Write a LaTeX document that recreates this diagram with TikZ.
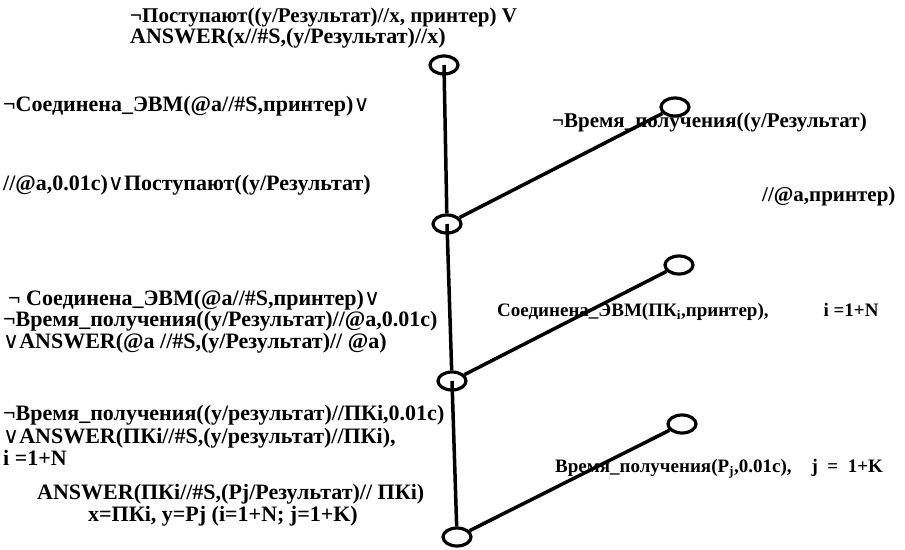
\documentclass[tikz,border=0pt]{standalone}
\usepackage{fontspec}
\setmainfont{Liberation Serif}
\newfontfamily\symfont{DejaVu Serif}
\usetikzlibrary{shapes.geometric}
\newcommand{\orsym}{{\symfont\normalfont\symfont ∨}}

\begin{document}
\begin{tikzpicture}[x=1pt, y=-1pt,
    main/.style = {draw, ellipse, line width=3.2pt, minimum width=28pt, minimum height=18pt, inner sep=0pt},
    txt/.style = {anchor=base west, inner sep=0pt, font=\fontsize{22}{26}\selectfont\bfseries},
    rtxt/.style = {txt, font=\fontsize{21}{25}\selectfont\bfseries},
    stxt/.style = {txt, font=\fontsize{19}{23}\selectfont\bfseries},
    edge/.style = {line width=3.5pt}]

    \useasboundingbox (0,0) rectangle (905,549);

    \node[rtxt] (t1) at (130, 22) {¬Поступают((y/Результат)//x, принтер) V};
    \node[txt] (t2) at (130, 43) {ANSWER(x//\#S,(y/Результат)//x)};
    \node[txt] (t3) at (3, 111) {¬Соединена\_ЭВМ(@a//\#S,принтер)\orsym};
    \node[txt] (t4) at (3, 190) {//@a,0.01c)\orsym Поступают((y/Результат)};
    \node[rtxt] (t5) at (552, 127) {¬Время\_получения((y/Результат)};
    \node[rtxt] (t6) at (762, 201) {//@a,принтер)};

    %--------------------------------------------

    \node[txt] (t7) at (8, 305) {¬ Соединена\_ЭВМ(@a//\#S,принтер)\orsym};
    \node[txt] (t8) at (3, 326) {¬Время\_получения((y/Результат)//@a,0.01c)};
    \node[txt] (t9) at (3, 348) {\orsym ANSWER(@a //\#S,(y/Результат)// @a)};
    \node[stxt] (t10) at (497, 316) {Соединена\_ЭВМ(ПК\textsubscript{i},принтер),\hspace{55pt}i =1+N};

    %--------------------------------------------

    \node[txt] (t11) at (3, 420) {¬Время\_получения((y/результат)//ПКi,0.01c)};
    \node[txt] (t12) at (3, 443) {\orsym ANSWER(ПКi//\#S,(y/результат)//ПКi),};
    \node[txt] (t13) at (3, 465) {i =1+N};
    \node[txt] (t14) at (37, 499) {ANSWER(ПКi//\#S,(Pj/Результат)// ПКi)};
    \node[txt] (t15) at (88, 521) {x=ПКi, y=Pj (i=1+N; j=1+K)};
    \node[stxt] (t16) at (555, 472) {Время\_получения(P\textsubscript{j},0.01c),\hspace{20pt}j \ = \ 1+K};

    %--------------------------------------------

    \node[main] (x1) at (444, 65) {};
    \node[main] (x2) at (447, 224) {};
    \node[main] (x3) at (452, 381) {};
    \node[main] (x4) at (457, 537) {};
    \node[main] (y1) at (675, 107) {};
    \node[main] (y2) at (679, 265) {};
    \node[main] (y3) at (682, 424) {};

    \draw[edge] (x1.center) -- (x2);
    \draw[edge] (x2.center) -- (x3);
    \draw[edge] (x3.center) -- (x4);
    \draw[edge] (x2) -- (y1);
    \draw[edge] (x3) -- (y2);
    \draw[edge] (x4) -- (y3);

\end{tikzpicture}
\end{document}
